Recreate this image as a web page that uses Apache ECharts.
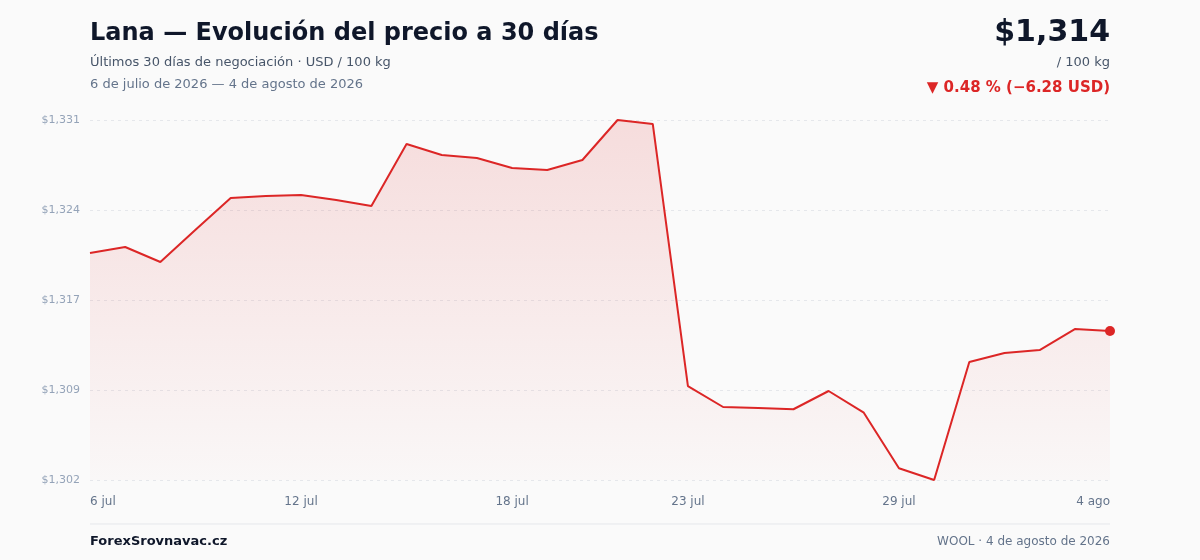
<!DOCTYPE html>
<html><head><meta charset="utf-8">
<script src="https://cdn.jsdelivr.net/npm/echarts@6/dist/echarts.min.js"></script>
<style>html,body{margin:0;padding:0;background:#fafafa}#c{width:1200px;height:560px}</style>
</head><body><div id="c"></div>
<script>
const categories = ['6 jul','7 jul','8 jul','9 jul','10 jul','11 jul','12 jul','13 jul','14 jul','15 jul','16 jul','17 jul','18 jul','19 jul','20 jul','21 jul','22 jul','23 jul','24 jul','25 jul','26 jul','27 jul','28 jul','29 jul','30 jul','31 jul','1 ago','2 ago','3 ago','4 ago'];
const prices = [1320.28,1320.77,1319.56,1322.15,1324.72,1324.88,1324.96,1324.56,1324.07,1329.07,1328.18,1327.94,1327.13,1326.97,1327.78,1331.00,1330.68,1309.57,1307.88,1307.80,1307.70,1309.17,1307.42,1302.95,1302.00,1311.51,1312.23,1312.47,1314.16,1314.00];
const labelIdx = [0,6,12,17,23,29];
const titleText = 'Lana — Evolución del precio a 30 días';
const subtitleText = 'Últimos 30 días de negociación · USD / 100 kg';
const rangeText = '6 de julio de 2026 — 4 de agosto de 2026';
const priceText = '$1,314';
const unitText = '/ 100 kg';
const changeText = '▼ 0.48 % (−6.28 USD)';
const brandText = 'ForexSrovnavac.cz';
const footerText = 'WOOL · 4 de agosto de 2026';

const F = 'DejaVu Sans';
const ymin = Math.min(...prices), ymax = Math.max(...prices);
const chart = echarts.init(document.getElementById('c'));
const T = (text, pos, size, weight, color) => Object.assign({text, padding: 0, textStyle: {fontFamily: F, fontSize: size, fontWeight: weight, color}}, pos);
chart.setOption({
  backgroundColor: '#fafafa',
  animation: false,
  textStyle: {fontFamily: F},
  title: [
    T(titleText, {left: 90, top: 22}, 24, 'bold', '#0f172a'),
    T(subtitleText, {left: 90, top: 56}, 13, 'normal', '#475569'),
    T(rangeText, {left: 90, top: 78}, 13, 'normal', '#64748b'),
    T(priceText, {right: 90, top: 18}, 30, 'bold', '#0f172a'),
    T(unitText, {right: 90, top: 56}, 13, 'normal', '#475569'),
    T(changeText, {right: 90, top: 81}, 15, 'bold', '#dc2626'),
    T(brandText, {left: 90, top: 535}, 13, 'bold', '#0f172a'),
    T(footerText, {right: 90, top: 536}, 12, 'normal', '#64748b')
  ],
  graphic: [
    {type: 'line', shape: {x1: 90, y1: 524, x2: 1110, y2: 524}, style: {stroke: '#e5e7eb', lineWidth: 1}}
  ],
  grid: {left: 90, right: 90, top: 120, bottom: 80},
  xAxis: {
    type: 'category', data: categories, boundaryGap: false,
    axisLine: {show: false}, axisTick: {show: false},
    axisLabel: {
      interval: (i) => labelIdx.includes(i),
      color: '#64748b', fontSize: 12, fontFamily: F, margin: 16,
      alignMinLabel: 'left', alignMaxLabel: 'right'
    },
    splitLine: {show: false}
  },
  yAxis: {
    type: 'value', min: ymin, max: ymax, interval: (ymax - ymin) / 4,
    axisLine: {show: false}, axisTick: {show: false},
    axisLabel: {color: '#94a3b8', fontSize: 11, fontFamily: F, margin: 10,
      formatter: v => '$' + Math.round(v).toLocaleString('en-US')},
    splitLine: {lineStyle: {color: '#e5e7eb', type: [3, 4], width: 1}}
  },
  series: [{
    type: 'line', data: prices, symbol: 'none', smooth: false,
    lineStyle: {color: '#dc2626', width: 2},
    areaStyle: {color: new echarts.graphic.LinearGradient(0, 0, 0, 1, [
      {offset: 0, color: 'rgba(220,38,38,0.20)'},
      {offset: 1, color: 'rgba(220,38,38,0.02)'}
    ])},
    markPoint: {
      symbol: 'circle', symbolSize: 10,
      itemStyle: {color: '#dc2626'},
      label: {show: false},
      data: [{coord: [categories.length - 1, prices[prices.length - 1]]}]
    }
  }]
});
</script></body></html>
